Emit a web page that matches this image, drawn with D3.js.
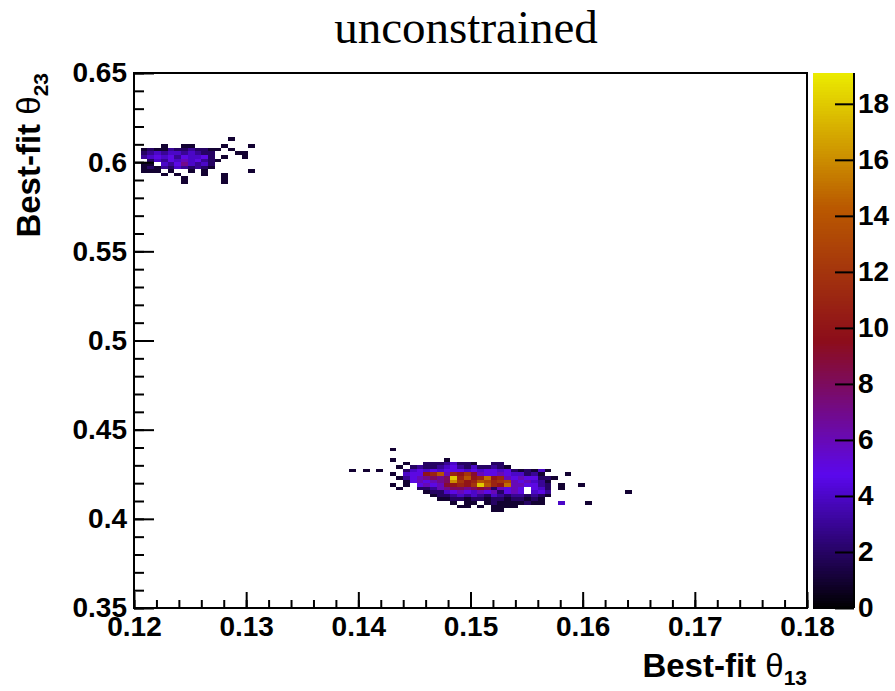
<!DOCTYPE html>
<html><head><meta charset="utf-8">
<script src="https://cdn.jsdelivr.net/npm/d3@7"></script>
<style>body{margin:0;background:#fff;} svg{display:block}</style>
</head><body>
<script>
// ---------------- data ----------------
const chartTitle = "unconstrained";
const xTitleParts = ["Best-fit ", "\u03B8", "13"];
const yTitleParts = ["Best-fit ", "\u03B8", "23"];
const xDomain = [0.12, 0.18];
const yDomain = [0.35, 0.65];
const zDomain = [0, 19.1];
const xBinWidth = 0.0006;
const yBinWidth = 0.002;
const xTicks = [0.12, 0.13, 0.14, 0.15, 0.16, 0.17, 0.18];
const xTickLabels = ["0.12", "0.13", "0.14", "0.15", "0.16", "0.17", "0.18"];
const yTicks = [0.35, 0.40, 0.45, 0.50, 0.55, 0.60, 0.65];
const yTickLabels = ["0.35", "0.4", "0.45", "0.5", "0.55", "0.6", "0.65"];
const zTicks = [0, 2, 4, 6, 8, 10, 12, 14, 16, 18];
const zTickLabels = ["0", "2", "4", "6", "8", "10", "12", "14", "16", "18"];
const paletteStops = [0, 0.25, 0.5, 0.75, 1];
const paletteColors = ["#000000", "#5a08ed", "#8c0d1a", "#ba5900", "#ebeb00"];

// bin counts: [y-bin index from 0.35, first x-bin index from 0.12, counts]
// count code: '.'=0, '1'..'9', 'a'=10 ... 'i'=18
const countCode = ".123456789abcdefghi";
const upperCluster = [
  [131, 0, "..............1"],
  [129, 0, "....1..11....1...1"],
  [128, 0, ".121132232211.1"],
  [127, 0, ".23434434322...11"],
  [126, 0, ".34545354452.1..1"],
  [125, 0, "..24354645321"],
  [124, 0, ".11.43574342"],
  [123, 0, ".12132432321"],
  [122, 0, ".111.1..1.1......1"],
  [121, 0, "....1.1...1..1"],
  [120, 0, ".......1.....1"],
  [119, 0, ".......1.....1"]
];
const lowerCluster = [
  [44, 31, ".......1"],
  [41, 31, ".......1.......1"],
  [40, 31, ".........1..22234221..22"],
  [39, 31, "........1.232234532422321"],
  [38, 31, ".1.1.1...2454545554545545212141"],
  [37, 31, ".......1.455abe6bac96556544231...1"],
  [36, 31, "........13567878ibeabfab65655221"],
  [35, 31, ".........1565678gcabedbcd656431"],
  [34, 31, ".......1.1.56569abaciebaf665532.1..1"],
  [33, 31, "........1..2236788789826565.542.1"],
  [32, 31, "............122456546562565.453...........1"],
  [31, 31, ".............122343432432332321"],
  [30, 31, "..............1122122122122121"],
  [29, 31, "................1.11.121111211..4...1"],
  [28, 31, ".................11.1.1111"],
  [27, 31, "......................11"]
];

// ---------------- layout ----------------
const W = 895, H = 691;
const plot = {left: 134, right: 807, top: 73, bottom: 608};
const bar = {left: 813, right: 854};
const fontSans = "'Liberation Sans', Arial, Helvetica, sans-serif";

const svg = d3.select("body").append("svg").attr("width", W).attr("height", H)
  .style("background", "#fff");

const x = d3.scaleLinear().domain(xDomain).range([plot.left, plot.right]);
const y = d3.scaleLinear().domain(yDomain).range([plot.bottom, plot.top]);
const z = d3.scaleLinear().domain([0, 1]).range([plot.bottom, plot.top]);
const zAxisScale = d3.scaleLinear().domain(zDomain).range([plot.bottom, plot.top]);
const color = d3.scaleLinear()
  .domain(paletteStops.map(s => zDomain[0] + s * (zDomain[1] - zDomain[0])))
  .range(paletteColors).interpolate(d3.interpolateRgb).clamp(true);

// build cells
const cells = [];
[upperCluster, lowerCluster].forEach(cluster => {
  cluster.forEach(([row, start, codes]) => {
    for (let k = 0; k < codes.length; k++) {
      const c = countCode.indexOf(codes[k]);
      if (c > 0) cells.push({x0: xDomain[0] + (start + k) * xBinWidth, y0: yDomain[0] + row * yBinWidth, count: c});
    }
  });
});

// cells
svg.append("g").selectAll("rect").data(cells).join("rect")
  .attr("x", d => x(d.x0))
  .attr("y", d => y(d.y0 + yBinWidth))
  .attr("width", d => x(d.x0 + xBinWidth) - x(d.x0))
  .attr("height", d => y(d.y0) - y(d.y0 + yBinWidth))
  .attr("fill", d => color(d.count))
  .attr("shape-rendering", "crispEdges");

// axes
const xMinor = d3.range(0, 31).map(i => xDomain[0] + i * 0.002);
const yMinor = d3.range(0, 31).map(i => yDomain[0] + i * 0.01);

const gxMinor = svg.append("g").attr("transform", `translate(0,${plot.bottom})`)
  .call(d3.axisBottom(x).tickValues(xMinor).tickSize(-8).tickFormat(""));
const gx = svg.append("g").attr("transform", `translate(0,${plot.bottom})`)
  .call(d3.axisBottom(x).tickValues(xTicks).tickSize(-16).tickPadding(8)
    .tickFormat((d, i) => xTickLabels[i]));
const gyMinor = svg.append("g").attr("transform", `translate(${plot.left},0)`)
  .call(d3.axisLeft(y).tickValues(yMinor).tickSize(-10).tickFormat(""));
const gy = svg.append("g").attr("transform", `translate(${plot.left},0)`)
  .call(d3.axisLeft(y).tickValues(yTicks).tickSize(-20).tickPadding(7)
    .tickFormat((d, i) => yTickLabels[i]));

[gxMinor, gx, gyMinor, gy].forEach(g => {
  g.select(".domain").remove();
  g.selectAll(".tick line").attr("stroke", "#000").attr("stroke-width", 2);
  g.selectAll("text").attr("font-family", fontSans).attr("font-weight", "bold")
    .attr("font-size", 28).attr("fill", "#000");
});

// frame
svg.append("rect").attr("x", plot.left).attr("y", plot.top)
  .attr("width", plot.right - plot.left).attr("height", plot.bottom - plot.top)
  .attr("fill", "none").attr("stroke", "#000").attr("stroke-width", 2);

// color bar
const nBands = 200;
const bands = d3.range(nBands).map(i => i / nBands);
svg.append("g").selectAll("rect").data(bands).join("rect")
  .attr("x", bar.left).attr("width", bar.right - bar.left)
  .attr("y", d => z(d + 1 / nBands))
  .attr("height", d => z(d) - z(d + 1 / nBands) + 0.6)
  .attr("fill", d => color(zDomain[0] + (d + 0.5 / nBands) * (zDomain[1] - zDomain[0])))
  .attr("shape-rendering", "crispEdges");

const gz = svg.append("g").attr("transform", `translate(${bar.right},0)`)
  .call(d3.axisRight(zAxisScale).tickValues(zTicks).tickSize(-19).tickPadding(4)
    .tickFormat((d, i) => zTickLabels[i]));
gz.select(".domain").attr("stroke", "#000").attr("stroke-width", 2).attr("d", `M0,${plot.top}V${plot.bottom}`);
gz.selectAll(".tick line").attr("stroke", "#000").attr("stroke-width", 2);
gz.selectAll("text").attr("font-family", fontSans).attr("font-weight", "bold")
  .attr("font-size", 28).attr("fill", "#000");

// titles
svg.append("text").attr("x", 466).attr("y", 43).attr("text-anchor", "middle")
  .attr("font-family", "'Liberation Serif', 'Times New Roman', serif")
  .attr("font-size", 47).attr("fill", "#000").text(chartTitle);

function axisTitle(sel, parts) {
  sel.attr("font-family", fontSans).attr("font-size", 33).attr("fill", "#000").attr("text-anchor", "end");
  sel.append("tspan").attr("font-weight", "bold").text(parts[0]);
  sel.append("tspan").attr("font-weight", "normal").text(parts[1]);
  sel.append("tspan").attr("font-weight", "bold").attr("font-size", 21).attr("dy", 8).text(parts[2]);
}
axisTitle(svg.append("text").attr("x", plot.right).attr("y", 677), xTitleParts);
axisTitle(svg.append("text").attr("transform", `translate(40,${plot.top}) rotate(-90)`), yTitleParts);
</script>
</body></html>
